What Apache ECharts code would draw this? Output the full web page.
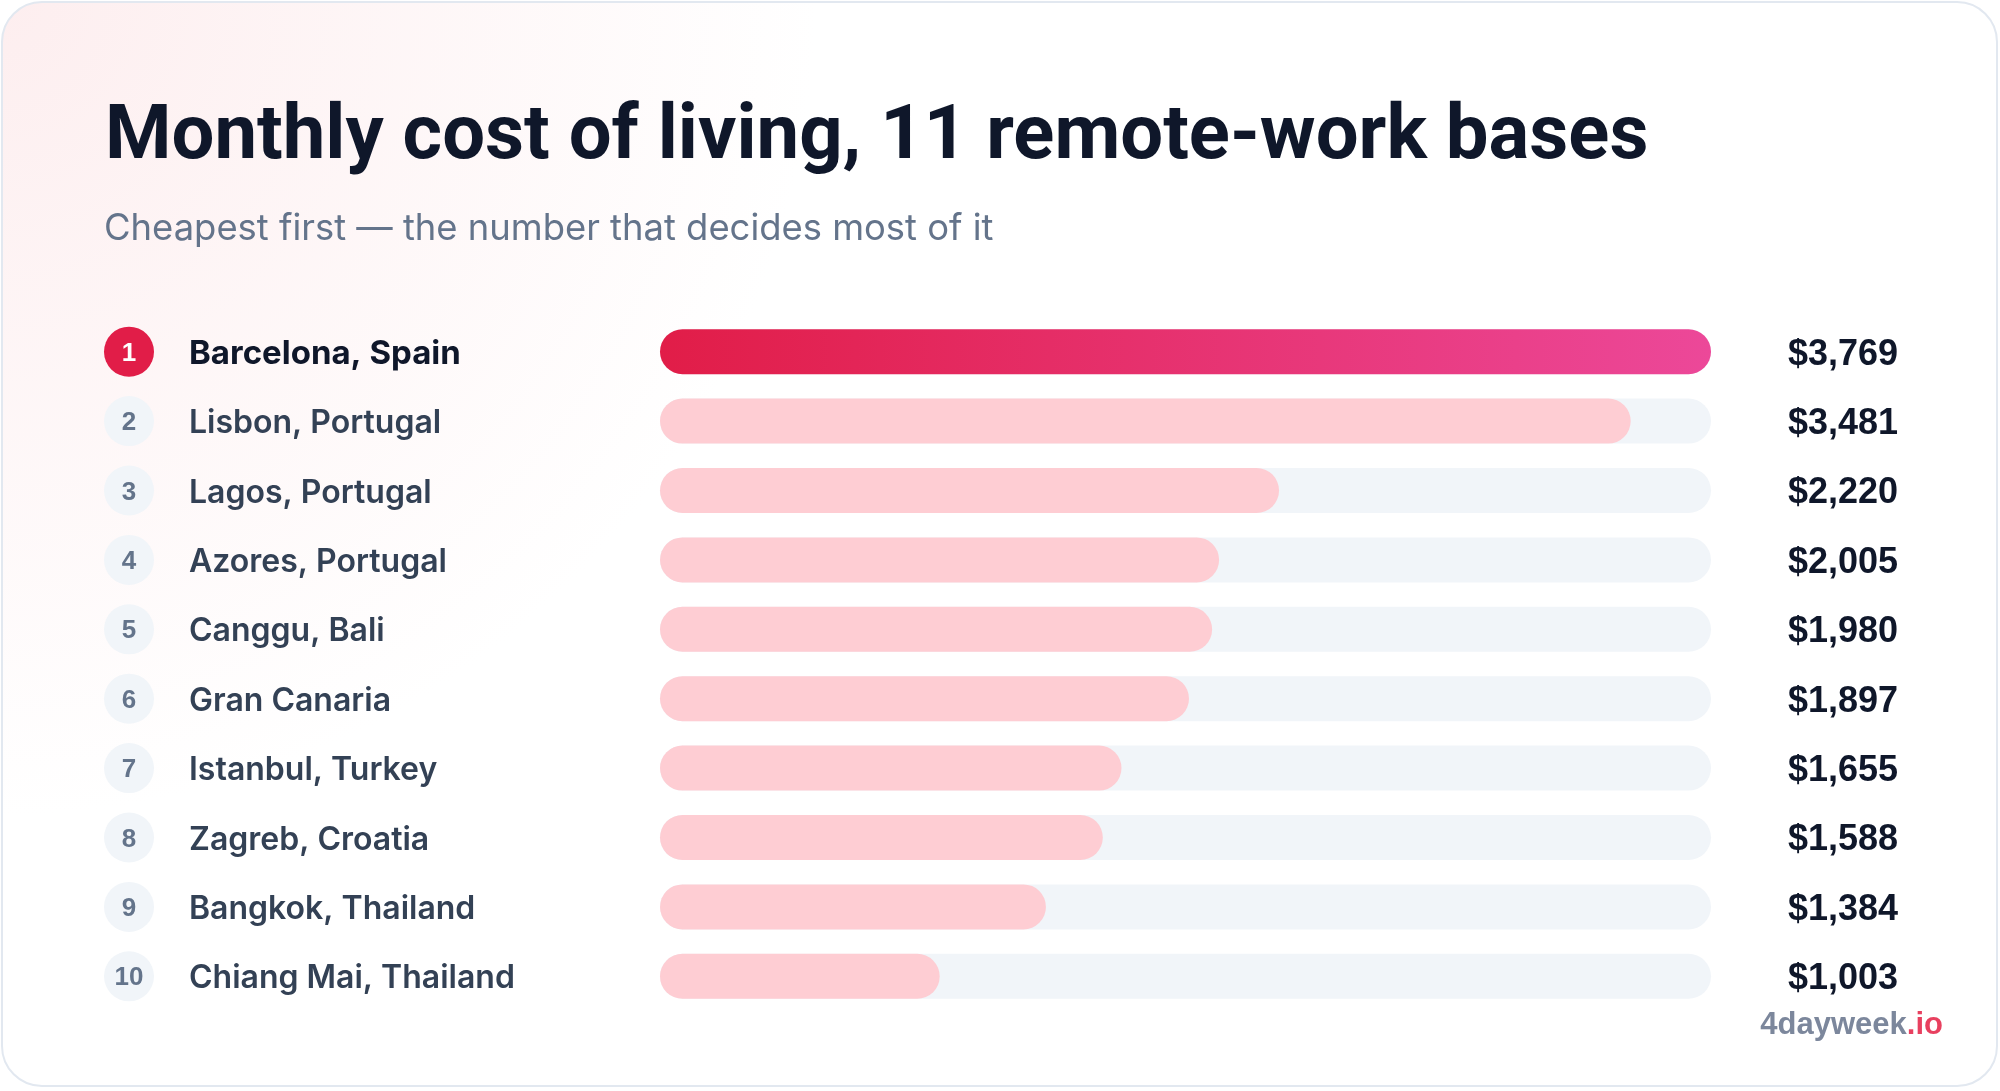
<!DOCTYPE html>
<html lang="en">
<head>
<meta charset="utf-8">
<title>Monthly cost of living</title>
<script src="https://cdn.jsdelivr.net/npm/echarts@6/dist/echarts.min.js"></script>
<style>
  html, body { margin: 0; padding: 0; background: #ffffff; }
  #main { width: 2000px; height: 1091px; }
</style>
</head>
<body>
<div id="main"></div>
<script>
// data
var cities = ['Barcelona, Spain', 'Lisbon, Portugal', 'Lagos, Portugal', 'Azores, Portugal',
              'Canggu, Bali', 'Gran Canaria', 'Istanbul, Turkey', 'Zagreb, Croatia',
              'Bangkok, Thailand', 'Chiang Mai, Thailand'];
var costs = [3769, 3481, 2220, 2005, 1980, 1897, 1655, 1588, 1384, 1003];
var ranks = [1, 2, 3, 4, 5, 6, 7, 8, 9, 10];

var FONT = 'Inter, "Noto Sans", sans-serif';
var NUM_FONT = '"Liberation Sans", Arial, sans-serif';
var maxCost = Math.max.apply(null, costs);

function money(v) {
    return '$' + v.toString().replace(/\B(?=(\d{3})+(?!\d))/g, ',');
}

var chart = echarts.init(document.getElementById('main'));

var option = {
    animation: false,
    textStyle: { fontFamily: FONT },
    graphic: [
        {
            type: 'rect',
            z: -10,
            shape: { x: 2, y: 2, width: 1995, height: 1084, r: 40 },
            style: {
                fill: {
                    type: 'radial', x: 0, y: 0, r: 0.75,
                    colorStops: [
                        { offset: 0, color: '#fdeeef' },
                        { offset: 1, color: '#ffffff' }
                    ]
                },
                stroke: '#e2e8f0',
                lineWidth: 2
            }
        },
        {
            type: 'text',
            right: 57,
            top: 1010,
            style: {
                text: '{a|4dayweek}{b|.io}',
                rich: {
                    a: { fontFamily: NUM_FONT, fontSize: 31, fontWeight: 700, fill: '#7c879c' },
                    b: { fontFamily: NUM_FONT, fontSize: 31, fontWeight: 700, fill: '#e8405f' }
                }
            }
        }
    ],
    title: [
        {
            text: 'Monthly cost of living, 11 remote-work bases',
            left: 100,
            top: 96,
            textStyle: { fontFamily: 'Roboto, ' + FONT, fontSize: 76, fontWeight: 700, color: '#0f172a' }
        },
        {
            text: 'Cheapest first — the number that decides most of it',
            left: 99,
            top: 206,
            textStyle: { fontFamily: FONT, fontSize: 36.4, fontWeight: 400, color: '#64748b' }
        }
    ],
    grid: { left: 660, right: 289, top: 317, bottom: 80 },
    xAxis: {
        type: 'value',
        min: 0,
        max: maxCost,
        show: false
    },
    yAxis: {
        type: 'category',
        inverse: true,
        data: cities,
        axisLine: { show: false },
        axisTick: { show: false },
        splitLine: { show: false },
        axisLabel: {
            align: 'left',
            margin: 556,
            formatter: function (name, i) {
                var r = ranks[i];
                return i === 0 ? '{top|' + r + '}{topName|' + name + '}'
                               : '{rank|' + r + '}{name|' + name + '}';
            },
            rich: {
                top: {
                    width: 50, height: 46, lineHeight: 46, padding: [4, 0, 0, 0],
                    borderRadius: 25, align: 'center',
                    backgroundColor: '#e11d48', color: '#ffffff',
                    fontFamily: NUM_FONT, fontSize: 26, fontWeight: 700
                },
                rank: {
                    width: 50, height: 46, lineHeight: 46, padding: [4, 0, 0, 0],
                    borderRadius: 25, align: 'center',
                    backgroundColor: '#f1f5f9', color: '#64748b',
                    fontFamily: NUM_FONT, fontSize: 26, fontWeight: 700
                },
                topName: {
                    padding: [5, 0, 0, 35],
                    fontFamily: FONT, fontSize: 33, fontWeight: 700, color: '#0f172a'
                },
                name: {
                    padding: [5, 0, 0, 35],
                    fontFamily: FONT, fontSize: 32, fontWeight: 600, color: '#334155'
                }
            }
        }
    },
    series: [
        {
            name: 'track',
            type: 'bar',
            silent: true,
            barWidth: 45,
            barGap: '-100%',
            data: cities.map(function () { return maxCost; }),
            itemStyle: { color: '#f1f5f9', borderRadius: 23 },
            label: {
                show: true,
                position: 'right',
                distance: 77,
                offset: [0, 3],
                formatter: function (p) { return money(costs[p.dataIndex]); },
                fontFamily: NUM_FONT,
                fontSize: 36,
                fontWeight: 700,
                color: '#0f172a'
            }
        },
        {
            name: 'cost',
            type: 'bar',
            silent: true,
            barWidth: 45,
            data: costs.map(function (v, i) {
                if (i === 0) {
                    return {
                        value: v,
                        itemStyle: {
                            color: new echarts.graphic.LinearGradient(0, 0, 1, 0, [
                                { offset: 0, color: '#e11d48' },
                                { offset: 1, color: '#ec4899' }
                            ])
                        }
                    };
                }
                return v;
            }),
            itemStyle: { color: '#fecdd3', borderRadius: 23 }
        }
    ]
};

chart.setOption(option);
</script>
</body>
</html>
